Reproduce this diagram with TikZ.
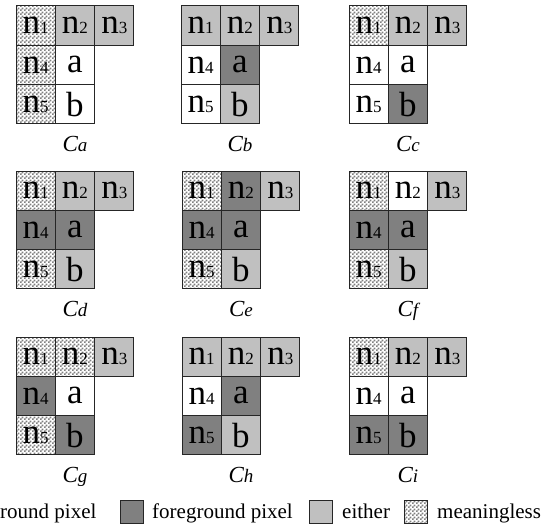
\documentclass[tikz,border=0pt]{standalone}
\usepackage{fontspec}
\setmainfont{Liberation Serif}
\usetikzlibrary{patterns}

\definecolor{fggray}{RGB}{128,128,128}
\definecolor{eigray}{RGB}{192,192,192}

% fine checker for the meaningless cells
\pgfdeclarepatternformonly{checker}{\pgfpointorigin}{\pgfqpoint{4pt}{4pt}}{\pgfqpoint{4pt}{4pt}}{%
  \pgfpathrectangle{\pgfpointorigin}{\pgfqpoint{2pt}{2pt}}%
  \pgfpathrectangle{\pgfqpoint{2pt}{2pt}}{\pgfqpoint{2pt}{2pt}}%
  \pgfusepath{fill}}

\newcommand{\nsub}[1]{n{\fontsize{17}{17}\selectfont #1}}

% one neighbourhood: name, origin, then n1 n2 n3 n4 a n5 b
\newcommand{\pixgrid}[9]{%
  \begin{scope}[shift={(#2)}]
    \node[cell,#3] (#1n1) at (19.65,19.65) {\nsub{1}};
    \node[cell,#4] (#1n2) at (58.95,19.65) {\nsub{2}};
    \node[cell,#5] (#1n3) at (98.25,19.65) {\nsub{3}};
    \node[cell,#6] (#1n4) at (19.65,58.95) {\nsub{4}};
    \node[cell,#7] (#1a)  at (58.95,58.95) {a};
    \node[cell,#8] (#1n5) at (19.65,98.25) {\nsub{5}};
    \node[cell,#9] (#1b)  at (58.95,98.25) {b};
    \node[caption] (#1cap) at (58.95,145) {C{\fontsize{19}{19}\selectfont #1}};
  \end{scope}}

\begin{document}
\begin{tikzpicture}[x=1pt,y=-1pt,
    cell/.style={rectangle,draw=black!85,line width=1pt,minimum size=39.3pt,
      inner sep=0pt,font=\fontsize{35}{35}\selectfont},
    bg/.style={fill=white},
    fg/.style={fill=fggray},
    ei/.style={fill=eigray},
    mn/.style={pattern=checker,pattern color=black!50},
    caption/.style={anchor=base,font=\itshape\fontsize{23}{23}\selectfont,inner sep=0pt},
    key/.style={rectangle,draw=black!85,line width=1pt,minimum size=23pt,inner sep=0pt},
    legtext/.style={anchor=base west,inner sep=0pt,font=\fontsize{21}{21}\selectfont}]
  \useasboundingbox (0,0) rectangle (553,527);

  \pixgrid{a}{16,6}{mn}{ei}{ei}{mn}{bg}{mn}{bg}
  \pixgrid{b}{181,6}{ei}{ei}{ei}{bg}{fg}{bg}{ei}
  \pixgrid{c}{349,6}{mn}{ei}{ei}{bg}{bg}{bg}{fg}

  \pixgrid{d}{16,171}{mn}{ei}{ei}{fg}{fg}{mn}{ei}
  \pixgrid{e}{182,171}{mn}{fg}{ei}{fg}{fg}{mn}{ei}
  \pixgrid{f}{349,171}{mn}{bg}{ei}{fg}{fg}{mn}{ei}

  \pixgrid{g}{16,337}{mn}{mn}{ei}{fg}{bg}{mn}{fg}
  \pixgrid{h}{182,337}{ei}{ei}{ei}{bg}{fg}{fg}{ei}
  \pixgrid{i}{349,337}{mn}{ei}{ei}{bg}{bg}{fg}{fg}

  % legend
  \node[legtext] (tbg) at (0,518) {round pixel};
  \node[key,fg] (kfg) at (132,512) {};
  \node[legtext] (tfg) at (152,518) {foreground pixel};
  \node[key,ei] (kei) at (321,512) {};
  \node[legtext] (tei) at (342,518) {either};
  \node[key,mn] (kmn) at (416,512) {};
  \node[legtext] (tmn) at (437,518) {meaningless};
\end{tikzpicture}
\end{document}
